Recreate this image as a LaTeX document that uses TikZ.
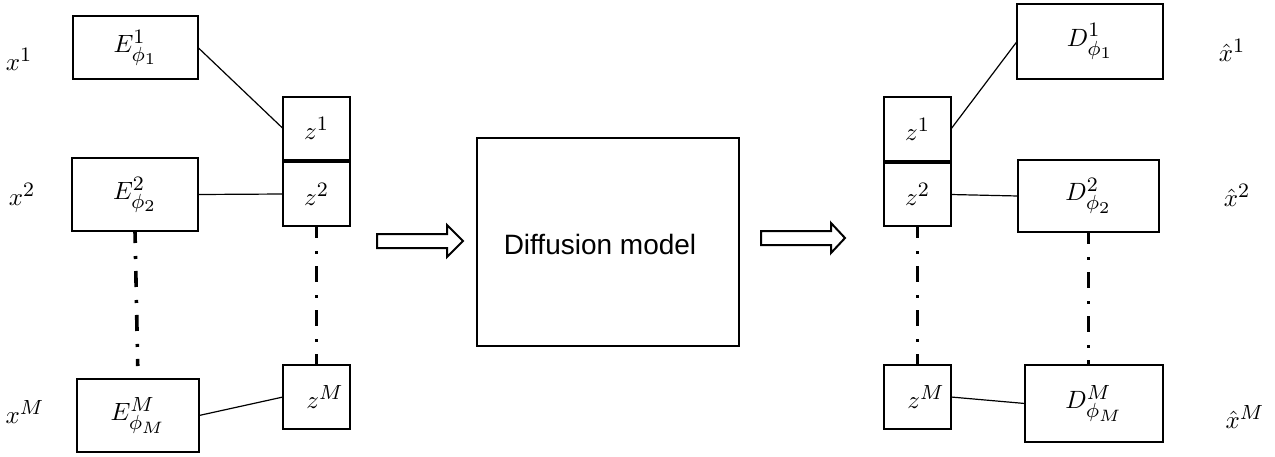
\RequirePackage{fix-cm}
\documentclass[tikz,border=0pt]{standalone}
\usepackage{fontspec}
\usepackage{graphicx}
\newfontfamily\arialish{Liberation Sans}
\DeclareMathSizes{10}{10}{8.2}{6.6}
\newcommand\mth[1]{\scalebox{2.5}{$#1$}}
\begin{document}
\begin{tikzpicture}[x=1pt,y=-1pt,
  box/.style={draw,line width=2.2pt,inner sep=0pt,outer sep=0pt},
  lbl/.style={inner sep=0pt},
  link/.style={line width=1.2pt},
  dotcol/.style={line width=3.6pt,dash pattern=on 16pt off 13pt on 3pt off 12pt,dash phase=4pt},
  blockarrow/.style={draw,line width=2pt,fill=white,line join=miter}]
\useasboundingbox (0,0) rectangle (1275,456);
% encoders
\node[box,minimum width=125pt,minimum height=63pt] (E1) at (135.5,47.5) {\mth{E^1_{\phi_1}}};
\node[box,minimum width=126pt,minimum height=73pt] (E2) at (135,194.5) {\mth{E^2_{\phi_2}}};
\node[box,minimum width=122pt,minimum height=73pt] (EM) at (138,415.5) {\mth{E^M_{\phi_M}}};
% latent left
\node[box,minimum width=67pt,minimum height=63pt] (z1L) at (316.5,128.5) {\mth{z^1}};
\node[box,minimum width=67pt,minimum height=64pt] (z2L) at (316.5,194) {\mth{z^2}};
\node[box,minimum width=67pt,minimum height=64pt] (zML) at (316.5,397) {\hspace{17pt}\mth{z^M}};
% diffusion
\node[draw,line width=2.2pt,minimum width=262pt,minimum height=208pt,inner sep=0pt] (diff) at (608,242) {};
\node[inner sep=0pt,font=\arialish\fontsize{28}{31}\selectfont] (difftext) at (600,244) {Diffusion model};
% latent right
\node[box,minimum width=67pt,minimum height=64pt] (z1R) at (917.5,129) {\mth{z^1}};
\node[box,minimum width=67pt,minimum height=63pt] (z2R) at (917.5,194.5) {\mth{z^2}};
\node[box,minimum width=67pt,minimum height=64pt] (zMR) at (917.5,397) {\hspace{17pt}\mth{z^M}};
% decoders
\node[box,minimum width=146pt,minimum height=75pt] (D1) at (1090,41.5) {\mth{D^1_{\phi_1}}};
\node[box,minimum width=141pt,minimum height=72pt] (D2) at (1088.5,196) {\mth{D^2_{\phi_2}}};
\node[box,minimum width=138pt,minimum height=77pt] (DM) at (1094,403.5) {\mth{D^M_{\phi_M}}};
% labels
\node[lbl] (x1) at (19,59) {\mth{x^1}};
\node[lbl] (x2) at (22,194) {\mth{x^2}};
\node[lbl] (xM) at (25,412) {\mth{x^M}};
\node[lbl] (xh1) at (1232,50) {\mth{\hat{x}^1}};
\node[lbl] (xh2) at (1237,195) {\mth{\hat{x}^2}};
\node[lbl] (xhM) at (1245,417) {\mth{\hat{x}^M}};
% links
\draw[link] (E1.east) -- (z1L.west);
\draw[link] (E2.east) -- (z2L.west);
\draw[link] (EM.east) -- (zML.west);
\draw[link] (z1R.east) -- (D1.west);
\draw[link] (z2R.east) -- (D2.west);
\draw[link] (zMR.east) -- (DM.west);
% dash-dot columns
\draw[dotcol,shorten >=13pt] (E2.south) -- (EM.north);
\draw[dotcol] (z2L.south) -- (zML.north);
\draw[dotcol] (z2R.south) -- (zMR.north);
\draw[dotcol] (D2.south) -- (D2.south |- DM.north);
% block arrows
\draw[blockarrow] (377,234) -- (447,234) -- (447,225) -- (463,241) -- (447,257) -- (447,248) -- (377,248) -- cycle;
\draw[blockarrow] (761,231) -- (831,231) -- (831,223) -- (845,238) -- (831,253) -- (831,245) -- (761,245) -- cycle;
\end{tikzpicture}
\end{document}
